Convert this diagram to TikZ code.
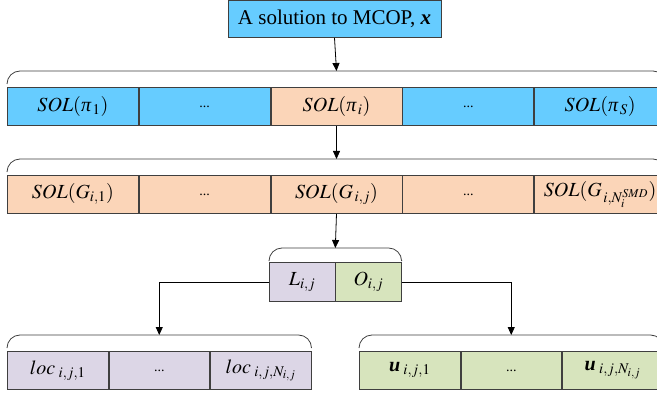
\documentclass[tikz,border=0pt]{standalone}
\usepackage{mathptmx}
\usepackage{fontspec}
\setmainfont{Liberation Serif}
\usetikzlibrary{positioning,arrows.meta}
\definecolor{solblue}{HTML}{66CCFF}
\definecolor{solpeach}{HTML}{FBD5B8}
\definecolor{loclilac}{HTML}{DCD6E6}
\definecolor{ugreen}{HTML}{D7E4BD}
\definecolor{edgegray}{HTML}{3F3F3F}
\newcommand{\itpi}{\mbox{\itshape π}}

\begin{document}
\begin{tikzpicture}[x=1pt, y=-1pt, font=\fontsize{20}{24}\selectfont,
  cell/.style={draw=edgegray, line width=0.8pt, minimum height=38pt, inner sep=0pt, anchor=north west},
  wide/.style={cell, minimum width=131pt},
  narrow/.style={cell, minimum width=100.7pt},
  half/.style={cell, minimum width=65.5pt, minimum height=39pt},
  gap/.style={font=\fontsize{14}{16}\selectfont},
  brace/.style={draw=edgegray, line width=0.8pt, rounded corners=13pt},
  link/.style={draw=black, line width=0.8pt, -{Triangle[length=8pt,width=7pt]}}]
  \useasboundingbox (0,0) rectangle (657,396);
  % the whole solution
  \node[cell, fill=solblue, anchor=north, minimum width=213pt, minimum height=37pt,
    font=\fontsize{21}{25}\selectfont] (sol) at (334.5,0) {A solution to MCOP, \textbf{\textit{x}}};
  % one part per pi
  \node[wide, fill=solblue] (p1) at (7,87) {$SOL(\itpi_{\,1})$};
  \node[wide, gap, fill=solblue, right=0pt of p1] (p2) {...};
  \node[wide, fill=solpeach, right=0pt of p2] (p3) {$SOL(\itpi_{\,i})$};
  \node[wide, gap, fill=solblue, right=0pt of p3] (p4) {...};
  \node[wide, fill=solblue, right=0pt of p4] (p5) {$SOL(\itpi_{\,S})$};
  % one part per group
  \node[wide, fill=solpeach] (g1) at (7,175) {$SOL(G_{i,1})$};
  \node[wide, gap, fill=solpeach, right=0pt of g1] (g2) {...};
  \node[wide, fill=solpeach, right=0pt of g2] (g3) {$SOL(G_{\,i,j})$};
  \node[wide, gap, fill=solpeach, right=0pt of g3] (g4) {...};
  \node[wide, fill=solpeach, right=0pt of g4] (g5) {$SOL(G_{\,i,N_i^{SMD}})$};
  % L and O
  \node[half, fill=loclilac] (lij) at (269,262) {$L_{i,j}$};
  \node[half, fill=ugreen, right=0pt of lij] (oij) {$O_{i,j}$};
  % locations
  \node[narrow, fill=loclilac] (l1) at (7,351) {$loc_{\;i,j,1}$};
  \node[narrow, gap, fill=loclilac, right=0pt of l1] (l2) {...};
  \node[narrow, fill=loclilac, right=0pt of l2] (l3) {$loc_{\;i,j,N_{i,j}}$};
  % orders
  \node[narrow, fill=ugreen] (u1) at (359,351) {$\textbf{\textit{u}}_{\;i,j,1}$};
  \node[narrow, gap, fill=ugreen, right=0pt of u1] (u2) {...};
  \node[narrow, fill=ugreen, right=0pt of u2] (u3) {$\textbf{\textit{u}}_{\;i,j,N_{i,j}}$};

  % braces over the rows
  \draw[brace] ([yshift=3pt]p1.north west) -- ([yshift=16pt]p1.north west)
    -- ([yshift=16pt]p5.north east) -- ([yshift=3pt]p5.north east);
  \draw[brace] ([yshift=3pt]g1.north west) -- ([yshift=16pt]g1.north west)
    -- ([yshift=16pt]g5.north east) -- ([yshift=3pt]g5.north east);
  \draw[brace] ([yshift=2pt]lij.north west) -- ([yshift=14pt]lij.north west)
    -- ([yshift=14pt]oij.north east) -- ([yshift=2pt]oij.north east);
  \draw[brace] ([yshift=3pt]l1.north west) -- ([yshift=16pt]l1.north west)
    -- ([yshift=16pt]l3.north east) -- ([yshift=3pt]l3.north east);
  \draw[brace] ([yshift=3pt]u1.north west) -- ([yshift=16pt]u1.north west)
    -- ([yshift=16pt]u3.north east) -- ([yshift=3pt]u3.north east);
  \coordinate (top1) at ([yshift=16pt]p3.north);
  \coordinate (top2) at ([yshift=16pt]g3.north);
  \coordinate (top3) at ([yshift=14pt]lij.north east);
  \coordinate (top4) at ([yshift=16pt]l2.north);
  \coordinate (top5) at ([yshift=16pt]u2.north);

  \draw[link] (sol.south) -- (top1);
  \draw[link] (p3.south) -- (top2);
  \draw[link] (g3.south) -- (top3);
  \draw[link] (lij.west) -| (top4);
  \draw[link] (oij.east) -| (top5);
\end{tikzpicture}
\end{document}
